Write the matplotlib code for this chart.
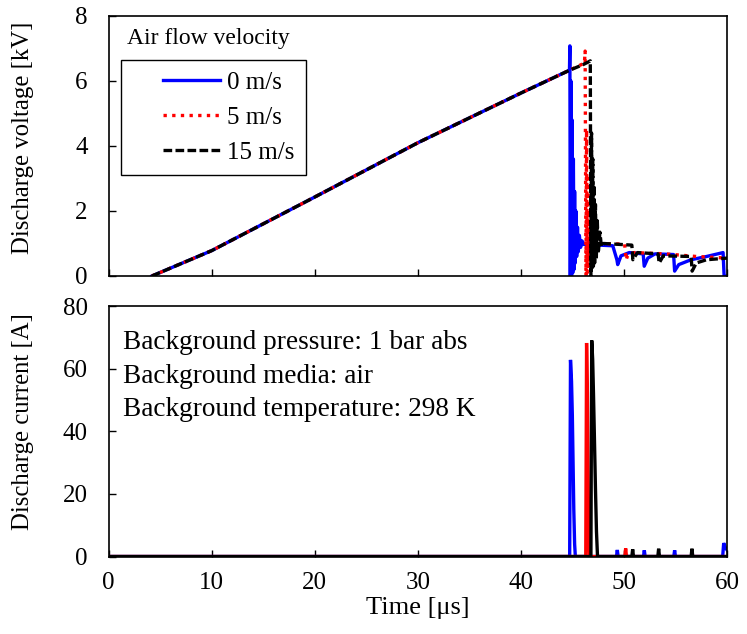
import matplotlib
matplotlib.use("Agg")
import matplotlib.pyplot as plt
from matplotlib.lines import Line2D
from matplotlib.legend_handler import HandlerLine2D

plt.rcParams['font.family'] = ['Liberation Serif', 'DejaVu Serif']
FS = 18

# ---- discharge voltage [kV] vs time [us] ----
t_v_0 = [4.2, 10, 20, 30, 40, 44.7, 44.74, 44.78, 44.84, 44.9, 44.96, 45.02, 45.08,
         45.14, 45.2, 45.26, 45.32, 45.4, 45.48, 45.56, 45.66, 45.78, 45.92, 46.1,
         48.9, 49.3, 49.38, 49.7, 50.5, 51.85, 51.95, 52.3, 53.0, 54.8, 54.9, 55.3,
         56.5, 58.0, 59.6, 59.7, 60.0]
v_0 = [0, 0.78, 2.43, 4.1, 5.63, 6.33, 7.08, 0.0, 6.0, 0.0, 4.8, 0.1, 3.6,
       0.2, 2.6, 0.4, 2.0, 0.6, 1.5, 0.75, 1.25, 0.88, 1.08, 0.97,
       0.93, 0.5, 0.35, 0.62, 0.72, 0.68, 0.3, 0.55, 0.68, 0.66, 0.15, 0.35,
       0.5, 0.6, 0.72, 0.0, 0.0]

t_v_5 = [4.2, 10, 20, 30, 40, 44.7, 46.15, 46.22, 46.3, 46.36, 46.42, 46.48, 46.54,
         46.6, 46.68, 46.78, 46.9, 47.05, 47.3, 50.05, 50.2, 50.3, 50.6, 51.0,
         54.0, 57.0, 60.0]
v_5 = [0, 0.78, 2.43, 4.1, 5.63, 6.33, 6.55, 6.92, 0.0, 4.5, 0.1, 3.0, 0.3,
       2.0, 0.5, 1.5, 0.8, 1.15, 1.0, 0.98, 0.49, 0.6, 0.7, 0.72,
       0.68, 0.6, 0.55]

t_v_15 = [4.2, 10, 20, 30, 40, 44.7, 46.0, 46.5, 46.72, 46.78, 46.84, 46.9, 46.96,
          47.02, 47.08, 47.14, 47.22, 47.3, 47.4, 47.5, 47.65, 47.8, 48.0, 50.75,
          50.85, 51.3, 53.3, 53.4, 53.8, 56.5, 56.6, 57.0, 58.0, 60.0]
v_15 = [0, 0.78, 2.43, 4.1, 5.63, 6.33, 6.5, 6.58, 6.62, 0.0, 4.4, 0.2, 3.6,
        0.3, 2.8, 0.4, 2.2, 0.5, 1.7, 0.7, 1.35, 0.9, 1.0, 0.95,
        0.5, 0.72, 0.68, 0.4, 0.62, 0.6, 0.15, 0.4, 0.5, 0.55]

# ---- discharge current [A] vs time [us] ----
t_i_0 = [0, 44.72, 44.8, 44.9, 44.98, 45.05, 45.12, 45.2, 45.27, 49.26, 49.34, 49.42,
         51.88, 51.96, 52.04, 54.82, 54.9, 54.98, 59.56, 59.66, 59.8, 60]
i_0 = [0, 0, 62.8, 56, 45, 30, 15, 4, 0, 0, 2.1, 0,
       0, 2.0, 0, 0, 2.0, 0, 0, 4.3, 3.0, 2.0]

t_i_5 = [0, 46.28, 46.36, 46.44, 46.5, 46.56, 46.62, 50.07, 50.15, 50.23, 60]
i_5 = [0, 0, 68.2, 52, 28, 8, 0, 0, 2.6, 0, 0]

t_i_15 = [0, 46.78, 46.86, 46.95, 47.03, 47.12, 47.22, 47.32, 47.42, 50.75, 50.83,
          50.91, 53.27, 53.35, 53.43, 56.5, 56.58, 56.66, 60]
i_15 = [0, 0, 69, 63, 52, 38, 22, 8, 0, 0, 2.3,
        0, 0, 2.5, 0, 0, 2.5, 0, 0]

series_labels = ['0 m/s', '5 m/s', '15 m/s']
colors = ['#0000ff', '#ff0000', '#000000']
x_ticks = [0, 10, 20, 30, 40, 50, 60]
v_ticks = [0, 2, 4, 6, 8]
i_ticks = [0, 20, 40, 60, 80]
info_lines = ['Background pressure: 1 bar abs',
              'Background media: air',
              'Background temperature: 298 K']

LW = 2.4
styles = [dict(ls='-'), dict(ls=(0, (1, 1.6))), dict(ls=(0, (2.6, 1.0)))]

fig = plt.figure(figsize=(7.47, 6.34), dpi=100)
ax_v = fig.add_axes([0.1454, 0.5647, 0.8281, 0.4101])
ax_i = fig.add_axes([0.1454, 0.1222, 0.8281, 0.3951], sharex=ax_v)

volt = [(t_v_0, v_0), (t_v_5, v_5), (t_v_15, v_15)]
curr = [(t_i_0, i_0), (t_i_5, i_5), (t_i_15, i_15)]
handles = []
for (tv, vv), (ti, ii), c, st, lab in zip(volt, curr, colors, styles, series_labels):
    h, = ax_v.plot(tv, vv, color=c, lw=LW, label=lab, **st)
    handles.append(h)
    ax_i.plot(ti, ii, color=c, lw=LW, solid_joinstyle='miter')

for ax in (ax_v, ax_i):
    ax.set_xlim(0, 60)
    ax.set_xticks(x_ticks)
    ax.tick_params(direction='in', length=5, width=1, labelsize=FS,
                   top=False, right=False)
    ax.tick_params(axis='y', pad=15)
    ax.tick_params(axis='x', pad=11)
    for s in ax.spines.values():
        s.set_linewidth(1.2)

ax_v.set_ylim(0, 8)
ax_v.set_yticks(v_ticks)
ax_v.tick_params(labelbottom=False)
ax_i.set_ylim(0, 80)
ax_i.set_yticks(i_ticks)

ax_v.set_ylabel('Discharge voltage [kV]', fontsize=17.8)
ax_i.set_ylabel('Discharge current [A]', fontsize=17.8)
ax_v.yaxis.set_label_coords(-0.121, 0.531)
ax_i.yaxis.set_label_coords(-0.121, 0.538)
ax_i.set_xlabel('Time [μs]', fontsize=19, labelpad=2)

# legend with its heading placed above the box
ax_v.text(0.029, 0.915, 'Air flow velocity', transform=ax_v.transAxes,
          fontsize=17, ha='left', va='center')
leg = ax_v.legend(handles=handles, loc='upper left', bbox_to_anchor=(0.02, 0.831),
                  fontsize=18, frameon=True, fancybox=False, framealpha=1,
                  edgecolor='black', borderpad=0.45, borderaxespad=0,
                  handlelength=3.51, handletextpad=0.3, labelspacing=0.5,
                  handler_map={Line2D: HandlerLine2D(xpad=1.23)})
leg.get_frame().set_linewidth(1.0)

for k, line in enumerate(info_lines):
    ax_i.text(0.0233, [0.854, 0.718, 0.586][k], line, transform=ax_i.transAxes,
              fontsize=19.6, ha='left', va='center')

fig.savefig('out.png', dpi=100)
